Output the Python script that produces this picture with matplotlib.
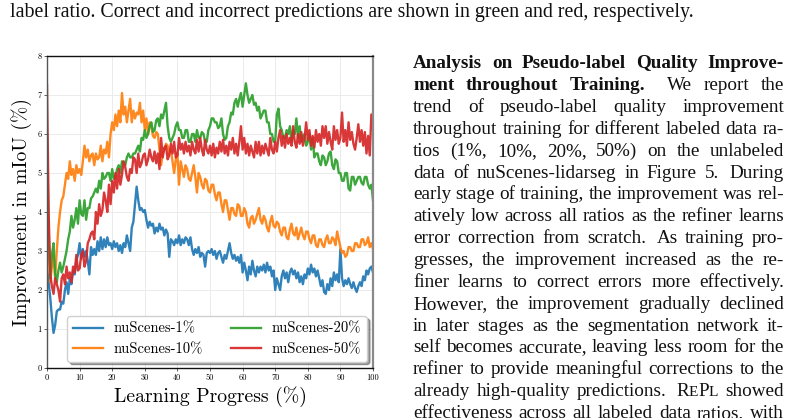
import matplotlib
matplotlib.use("Agg")
import matplotlib.pyplot as plt
import numpy as np

W, H = 799, 418

# ---------------- data ----------------
progress = np.arange(0, 100.5, 0.5)

nuscenes_1 = [
    2.55, 2.2, 1.8, 1.3, 0.9, 1.1, 1.45, 1.5, 1.5, 1.7,
    1.65, 2.0, 2.2, 1.9, 2.3, 2.15, 2.5, 2.4, 2.75, 2.9,
    3.2, 2.8, 3.05, 2.85, 3.0, 2.75, 2.4, 3.1, 2.9, 3.05,
    2.9, 3.25, 3.0, 3.35, 3.05, 3.3, 3.1, 3.35, 3.15, 3.2,
    3.05, 3.25, 3.1, 3.2, 3.0, 3.15, 2.95, 3.2, 3.1, 3.4,
    3.2, 3.0, 3.6, 3.75, 4.2, 4.65, 4.3, 4.05, 4.1, 4.0,
    4.05, 3.8, 3.6, 3.75, 3.65, 3.7, 3.45, 3.6, 3.5, 3.7,
    3.55, 3.6, 3.4, 3.55, 3.45, 2.85, 3.3, 3.25, 3.15, 3.3,
    3.2, 3.4, 3.15, 3.3, 3.2, 3.35, 3.3, 3.15, 3.35, 3.05,
    2.9, 3.05, 2.95, 3.1, 2.85, 2.95, 2.9, 2.6, 2.95, 3.0,
    2.95, 3.05, 2.9, 3.0, 2.8, 2.95, 3.0, 2.85, 2.7, 2.9,
    2.8, 3.0, 3.2, 2.95, 2.8, 2.9, 2.75, 2.85, 2.7, 2.9,
    2.45, 2.7, 2.5, 2.25, 2.6, 2.4, 2.75, 2.5, 2.35, 2.6,
    2.45, 2.6, 2.5, 2.65, 2.45, 2.7, 2.5, 2.6, 2.35, 2.5,
    2.0, 2.3, 2.15, 2.0, 2.35, 2.5, 2.3, 2.45, 2.2, 2.45,
    2.55, 2.4, 2.5, 2.3, 2.45, 2.2, 2.35, 2.15, 2.4, 2.3,
    2.55, 2.4, 2.65, 2.45, 2.55, 2.35, 2.5, 2.3, 2.1, 2.25,
    1.95, 1.9, 2.15, 2.0, 2.3, 2.1, 2.45, 2.25, 2.4, 2.2,
    3.05, 2.3, 2.1, 2.25, 2.15, 2.3, 2.15, 2.05, 2.2, 2.05,
    1.95, 2.1, 2.2, 2.1, 2.35, 2.25, 2.5, 2.4, 2.55, 2.6,
    2.45,
]

nuscenes_10 = [
    4.8, 3.0, 2.2, 2.6, 2.9, 2.3, 3.0, 3.6, 4.0, 4.3,
    4.4, 4.7, 5.0, 4.85, 5.3, 4.95, 5.1, 4.8, 5.2, 5.0,
    5.1, 4.95, 5.3, 5.7, 5.4, 5.6, 5.3, 5.45, 5.5, 5.2,
    5.5, 5.35, 5.4, 5.7, 5.3, 5.6, 5.5, 5.8, 5.4, 6.0,
    6.3, 6.1, 6.5, 6.2, 6.6, 6.3, 7.05, 6.5, 6.7, 6.3,
    6.6, 6.9, 6.3, 6.6, 6.4, 6.55, 6.5, 6.8, 6.3, 6.6,
    6.1, 6.4, 6.0, 6.3, 6.2, 5.95, 5.9, 6.05, 6.0, 5.6,
    5.2, 5.5, 5.6, 5.75, 5.7, 5.5, 5.6, 5.3, 5.0, 5.35,
    5.5, 4.7, 5.3, 5.1, 4.9, 5.2, 5.1, 4.85, 4.8, 5.0,
    5.2, 4.9, 4.5, 5.0, 4.9, 4.7, 4.6, 4.85, 4.8, 4.55,
    4.5, 4.7, 4.7, 4.45, 4.3, 4.5, 4.5, 4.2, 4.0, 4.3,
    4.3, 4.05, 3.8, 4.1, 4.1, 3.95, 3.9, 4.2, 4.15, 3.9,
    3.9, 4.1, 4.0, 3.7, 3.6, 3.85, 3.9, 3.7, 3.8, 3.95,
    4.1, 3.8, 3.7, 3.9, 3.8, 3.6, 3.5, 3.75, 3.9, 3.65,
    3.6, 3.75, 3.7, 3.5, 3.4, 3.6, 3.6, 3.35, 3.3, 3.55,
    3.7, 3.45, 3.4, 3.6, 3.3, 3.45, 3.6, 3.4, 3.3, 3.5,
    3.5, 3.3, 3.2, 3.4, 3.4, 3.15, 3.1, 3.3, 3.3, 3.15,
    3.1, 3.3, 3.4, 3.2, 3.2, 3.35, 3.3, 3.15, 3.5, 3.3,
    3.1, 2.95, 3.0, 2.85, 2.9, 3.1, 3.1, 3.0, 3.0, 3.2,
    3.2, 3.1, 3.1, 3.3, 3.3, 3.15, 3.2, 3.35, 3.1, 3.2,
    3.05,
]

nuscenes_20 = [
    6.0, 3.5, 2.3, 2.9, 3.2, 2.4, 2.2, 2.5, 2.7, 2.45,
    2.6, 2.8, 3.0, 3.3, 3.5, 3.9, 3.6, 3.8, 4.1, 3.7,
    4.3, 3.95, 3.9, 4.3, 3.8, 4.1, 4.1, 4.35, 4.4, 4.5,
    4.6, 4.5, 4.8, 4.6, 5.0, 4.85, 4.9, 5.0, 5.0, 4.8,
    5.1, 4.85, 4.9, 5.1, 5.2, 5.0, 5.3, 5.25, 5.2, 5.4,
    5.5, 5.4, 5.4, 5.5, 5.5, 5.6, 5.7, 5.55, 5.9, 5.85,
    6.1, 5.9, 6.0, 6.2, 6.3, 6.05, 6.1, 6.35, 6.4, 6.2,
    6.5, 6.4, 6.6, 6.8, 6.2, 5.9, 5.8, 5.9, 6.0, 6.2,
    6.3, 6.1, 6.1, 5.9, 5.9, 6.1, 6.1, 5.8, 5.8, 6.0,
    6.0, 5.8, 6.1, 5.9, 5.9, 6.05, 6.0, 5.8, 5.8, 6.1,
    6.2, 6.4, 6.4, 6.3, 6.3, 6.15, 6.2, 6.4, 6.0, 5.85,
    5.9, 6.2, 6.3, 6.55, 6.5, 6.8, 6.9, 6.7, 6.9, 7.05,
    6.7, 7.0, 7.3, 7.0, 6.8, 6.9, 7.0, 6.75, 6.8, 6.6,
    6.7, 6.4, 6.5, 6.6, 6.6, 6.3, 6.3, 6.0, 6.0, 5.8,
    5.8, 6.5, 6.65, 6.2, 6.1, 5.9, 5.9, 6.1, 6.0, 6.2,
    5.8, 6.1, 6.0, 6.4, 5.9, 6.2, 5.8, 5.95, 6.0, 5.7,
    5.8, 6.0, 5.6, 5.9, 5.4, 5.5, 5.5, 5.3, 5.2, 5.45,
    5.4, 5.2, 5.3, 5.5, 5.55, 5.2, 5.1, 5.35, 5.3, 5.0,
    5.0, 4.8, 4.8, 5.0, 5.0, 4.6, 4.55, 4.9, 4.9, 4.7,
    4.8, 4.9, 4.9, 4.75, 4.7, 4.9, 4.9, 4.7, 4.6, 4.7,
    4.3,
]

nuscenes_50 = [
    7.25, 4.0, 2.4, 2.1, 1.9, 2.3, 2.15, 2.0, 1.7, 2.3,
    2.4, 2.15, 2.6, 2.3, 2.45, 2.2, 2.6, 2.45, 2.9, 2.5,
    2.55, 2.9, 3.0, 2.6, 2.75, 3.2, 3.3, 3.45, 3.5, 3.3,
    4.0, 3.7, 4.2, 3.9, 4.05, 4.5, 4.3, 4.0, 4.7, 4.2,
    4.8, 4.5, 5.0, 4.6, 5.1, 4.7, 4.95, 5.3, 5.15, 4.9,
    4.8, 5.1, 5.0, 5.4, 5.35, 5.0, 5.5, 5.15, 5.25, 5.45,
    5.5, 5.2, 5.35, 5.6, 5.4, 5.3, 5.55, 5.25, 5.5, 5.1,
    5.9, 5.4, 5.65, 5.7, 5.35, 5.45, 5.75, 5.5, 5.8, 5.4,
    5.45, 5.9, 5.6, 5.75, 5.5, 5.8, 5.55, 5.7, 5.45, 5.8,
    5.6, 5.5, 5.85, 5.55, 5.9, 5.6, 5.45, 5.85, 5.6, 5.5,
    5.7, 5.45, 5.75, 5.4, 5.65, 5.5, 5.8, 5.55, 5.85, 5.5,
    5.7, 5.45, 5.8, 5.6, 5.9, 5.5, 5.75, 5.45, 5.8, 6.2,
    5.6, 5.9, 5.5, 5.75, 5.45, 5.7, 5.55, 5.4, 5.8, 5.5,
    5.8, 5.45, 5.7, 5.5, 5.75, 5.6, 5.45, 5.9, 5.6, 5.5,
    5.8, 5.55, 5.9, 6.1, 5.7, 5.95, 5.65, 6.0, 5.75, 5.9,
    5.7, 6.2, 5.8, 5.65, 6.0, 5.75, 6.05, 5.7, 5.9, 6.3,
    5.85, 6.1, 5.7, 5.95, 5.65, 6.1, 5.8, 6.0, 5.7, 6.2,
    5.9, 6.2, 5.75, 6.05, 5.8, 5.6, 6.2, 5.85, 6.1, 5.75,
    5.9, 6.55, 5.8, 6.1, 5.7, 6.3, 5.85, 6.05, 5.75, 5.6,
    5.9, 6.25, 5.8, 6.1, 5.7, 6.05, 5.5, 5.95, 5.45, 6.5,
    6.5,
]

series_labels = ["nuScenes-1%", "nuScenes-10%", "nuScenes-20%", "nuScenes-50%"]
series_colors = ["#1f77b4", "#ff7f0e", "#2ca02c", "#d62728"]

x_ticks = [0, 10, 20, 30, 40, 50, 60, 70, 80, 90, 100]
x_tick_labels = ["0", "10", "20", "30", "40", "50", "60", "70", "80", "90", "100"]
y_ticks = [0, 1, 2, 3, 4, 5, 6, 7, 8]
y_tick_labels = ["0", "1", "2", "3", "4", "5", "6", "7", "8"]

x_label = "Learning Progress (%)"
y_label = "Improvement in mIoU (%)"

caption_line = ("label ratio. Correct and incorrect predictions are shown in "
                "green and red, respectively.")

body_lines = [
    [("Analysis on Pseudo-label Quality Improve-", "bold")],
    [("ment throughout Training.", "bold"), ("We report the", "normal")],
    [("trend of pseudo-label quality improvement", "normal")],
    [("throughout training for different labeled data ra-", "normal")],
    [("tios (1%, 10%, 20%, 50%) on the unlabeled", "normal")],
    [("data of nuScenes-lidarseg in Figure 5. During", "normal")],
    [("early stage of training, the improvement was rel-", "normal")],
    [("atively low across all ratios as the refiner learns", "normal")],
    [("error correction from scratch. As training pro-", "normal")],
    [("gresses, the improvement increased as the re-", "normal")],
    [("finer learns to correct errors more effectively.", "normal")],
    [("However, the improvement gradually declined", "normal")],
    [("in later stages as the segmentation network it-", "normal")],
    [("self becomes accurate, leaving less room for the", "normal")],
    [("refiner to provide meaningful corrections to the", "normal")],
    [("already high-quality predictions. REPL showed", "normal")],
    [("effectiveness across all labeled data ratios, with", "normal")],
]
small_caps_words = {"REPL": [("R", 1.0), ("E", 0.8), ("P", 1.0), ("L", 0.8)]}

# ---------------- figure ----------------
fig = plt.figure(figsize=(W / 100, H / 100), dpi=100)
fig.patch.set_facecolor("white")
renderer = fig.canvas.get_renderer()

CM = ["cmr10", "DejaVu Serif"]
SERIF = ["Liberation Serif", "DejaVu Serif"]

ax = fig.add_axes([47 / W, 1 - 368 / H, (373 - 47) / W, (368 - 56) / H])
all_series = [nuscenes_1, nuscenes_10, nuscenes_20, nuscenes_50]
for vals, lab, col in zip(all_series, series_labels, series_colors):
    ax.plot(progress, vals, color=col, lw=1.7, alpha=0.92, label=lab)

ax.set_xlim(0, 100)
ax.set_ylim(0, 8)
ax.set_xticks(x_ticks)
ax.set_xticklabels(x_tick_labels, family=CM, fontsize=6)
ax.set_yticks(y_ticks)
ax.set_yticklabels(y_tick_labels, family=CM, fontsize=6)
ax.tick_params(length=2, width=0.6, pad=2, color="#444444")
ax.grid(True, color="#ebebeb", lw=0.7)
ax.set_axisbelow(True)
for side in ["top", "bottom"]:
    ax.spines[side].set_color("#111111")
    ax.spines[side].set_linewidth(1.0)
ax.spines["left"].set_color("#555555")
ax.spines["left"].set_linewidth(1.0)
ax.spines["right"].set_color("#8a8a8a")
ax.spines["right"].set_linewidth(1.6)

ax.set_xlabel(x_label, family=CM, fontsize=14.2, labelpad=3)
ax.set_ylabel(y_label, family=CM, fontsize=14.0, labelpad=3.5)

leg = ax.legend(ncol=2, loc="lower right", bbox_to_anchor=(0.982, 0.02),
                borderaxespad=0, prop={"family": CM, "size": 10.5},
                fancybox=True, shadow=True, framealpha=1, edgecolor="#d0d0d0",
                handlelength=2.05, handletextpad=0.75, columnspacing=1.9,
                labelspacing=0.45, borderpad=0.4)
for h in leg.get_lines():
    h.set_linewidth(1.7)


# ---------------- text ----------------
def measure(s, size, weight, family=SERIF):
    t = fig.text(0, 0, s, fontsize=size, fontweight=weight, family=family)
    w = t.get_window_extent(renderer).width
    t.remove()
    return w


# caption: fit to its width in the reference
cap_x0, cap_x1, cap_base = 10, 688, 16.8
w0 = measure(caption_line, 12, "normal")
cap_size = 12 * (cap_x1 - cap_x0) / w0
fig.text(cap_x0 / W, 1 - cap_base / H, caption_line, fontsize=cap_size,
         family=SERIF, va="baseline", ha="left", color="#111111")

# justified body column
col_x0, col_x1 = 413, 784
base0, lead = 68.3, 21.85
body_size = 13.8

for i, chunks in enumerate(body_lines):
    words = []
    for ci, (chunk, weight) in enumerate(chunks):
        toks = chunk.split(" ")
        for ti, tok in enumerate(toks):
            segs = small_caps_words.get(tok, [(tok, 1.0)])
            gw = 1.0
            if tok.endswith("."):
                gw = 1.35
            if ti == len(toks) - 1 and ci < len(chunks) - 1 and weight == "bold":
                gw = 1.9
            words.append((segs, weight, gw))
    widths = []
    for segs, weight, gw in words:
        widths.append(sum(measure(s, body_size * sc, weight) for s, sc in segs))
    free = (col_x1 - col_x0) - sum(widths)
    wsum = sum(gw for _, _, gw in words[:-1])
    unit = free / wsum if wsum else 0
    x = col_x0
    yb = base0 + lead * i
    for k, (segs, weight, gw) in enumerate(words):
        for s, sc in segs:
            fig.text(x / W, 1 - yb / H, s, fontsize=body_size * sc,
                     fontweight=weight, family=SERIF, va="baseline",
                     ha="left", color="#111111")
            x += measure(s, body_size * sc, weight)
        x += unit * gw

fig.savefig("out.png", dpi=100)
